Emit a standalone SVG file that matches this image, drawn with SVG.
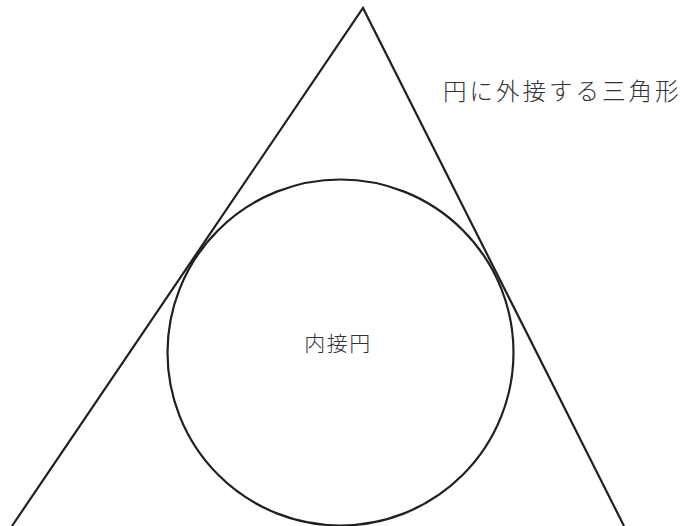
<svg xmlns="http://www.w3.org/2000/svg" width="686" height="526" viewBox="0 0 686 526">
<style>
.ln{fill:none;stroke:#231f20;stroke-width:2.2;stroke-linejoin:miter}
.t{font-family:"Noto Sans CJK JP","Liberation Serif",serif;fill:#333;font-weight:300}
</style>
<rect width="686" height="526" fill="#fff"/>
<g id="triangle">
<polyline class="ln" points="12,526 363,8 624,526"/>
<text class="t" x="443" y="100" font-size="23.5" letter-spacing="3">円に外接する三角形</text>
</g>
<g id="incircle">
<circle class="ln" cx="340.5" cy="352.5" r="173"/>
<text class="t" x="338" y="351" font-size="21" letter-spacing="1.5" text-anchor="middle">内接円</text>
</g>
</svg>
